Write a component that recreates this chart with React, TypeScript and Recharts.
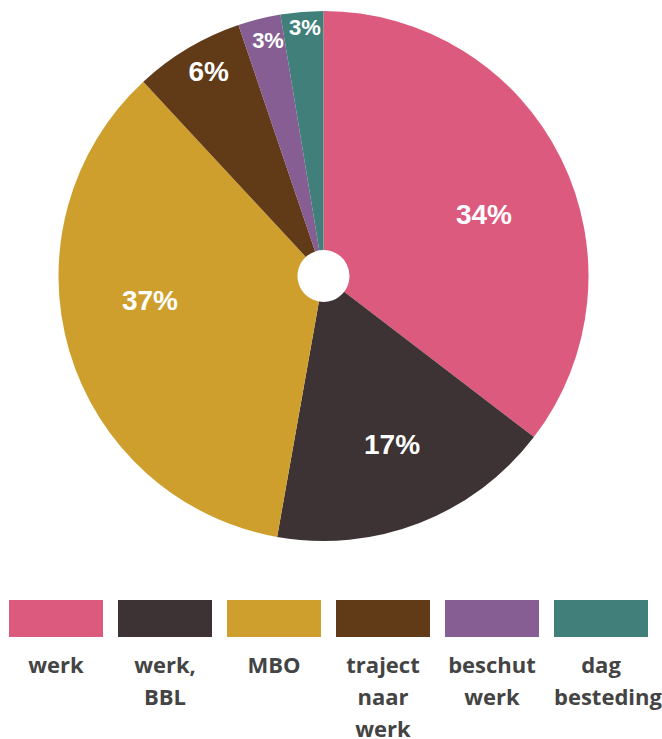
import { PieChart, Pie, Cell, Legend } from 'recharts';

// share of each group
const categories = ['werk', 'werk, BBL', 'MBO', 'traject naar werk', 'beschut werk', 'dag besteding'];
const shares = [35.4, 17.4, 35.3, 6.7, 2.6, 2.6];
const shareLabels = ['34%', '17%', '37%', '6%', '3%', '3%'];

const COLORS = ['#DC5A7D', '#3D3334', '#CF9F2D', '#613A18', '#865E93', '#41807A'];

// label placement: fraction of outer radius and clockwise nudge in degrees
const LABEL_RADIUS = [0.648, 0.688, 0.661, 0.886, 0.914, 0.942];
const LABEL_NUDGE = [5.4, -0.85, 8.5, 1.5, 0.8, 0.4];

const data = categories.map((name, i) => ({ name, value: shares[i], label: shareLabels[i] }));

const RAD = Math.PI / 180;

const renderLabel = (props: any) => {
  const { cx, cy, midAngle, outerRadius, index } = props;
  const r = outerRadius * LABEL_RADIUS[index];
  const a = (midAngle - LABEL_NUDGE[index]) * RAD;
  const x = cx + r * Math.cos(a);
  const y = cy - r * Math.sin(a);
  const small = shares[index] < 5;
  return (
    <text
      x={x}
      y={y}
      fill="#fff"
      textAnchor="middle"
      dominantBaseline="central"
      fontFamily="'Liberation Sans', Arial, sans-serif"
      fontWeight={700}
      fontSize={small ? 22 : 28}
    >
      {data[index].label}
    </text>
  );
};

const renderLegend = () => (
  <div style={{ display: 'flex', gap: 15, paddingLeft: 9, height: 139 }}>
    {data.map((d, i) => (
      <div key={d.name} style={{ width: 94 }}>
        <div style={{ width: 94, height: 37, background: COLORS[i] }} />
        <div
          style={{
            marginTop: 11,
            width: 94,
            textAlign: 'center',
            fontFamily: "'Open Sans', sans-serif",
            fontWeight: 700,
            fontSize: 22,
            lineHeight: '32px',
            color: '#444',
          }}
        >
          {d.name}
        </div>
      </div>
    ))}
  </div>
);

export default function App() {
  return (
    <div style={{ position: 'absolute', left: 0, top: 0, width: 662, height: 739, background: '#fff', overflow: 'hidden' }}>
      <PieChart width={662} height={739} margin={{ top: 0, right: 0, bottom: 0, left: 0 }}>
        <Pie
          data={data}
          dataKey="value"
          cx={323.5}
          cy={276}
          innerRadius={26}
          outerRadius={265}
          startAngle={90}
          endAngle={-270}
          stroke="none"
          label={renderLabel}
          labelLine={false}
          isAnimationActive={false}
        >
          {data.map((d, i) => (
            <Cell key={d.name} fill={COLORS[i]} />
          ))}
        </Pie>
        <Legend
          content={renderLegend}
          wrapperStyle={{ position: 'absolute', left: 0, top: 600, width: 662, height: 139, bottom: 'auto', overflow: 'visible' }}
        />
      </PieChart>
    </div>
  );
}
